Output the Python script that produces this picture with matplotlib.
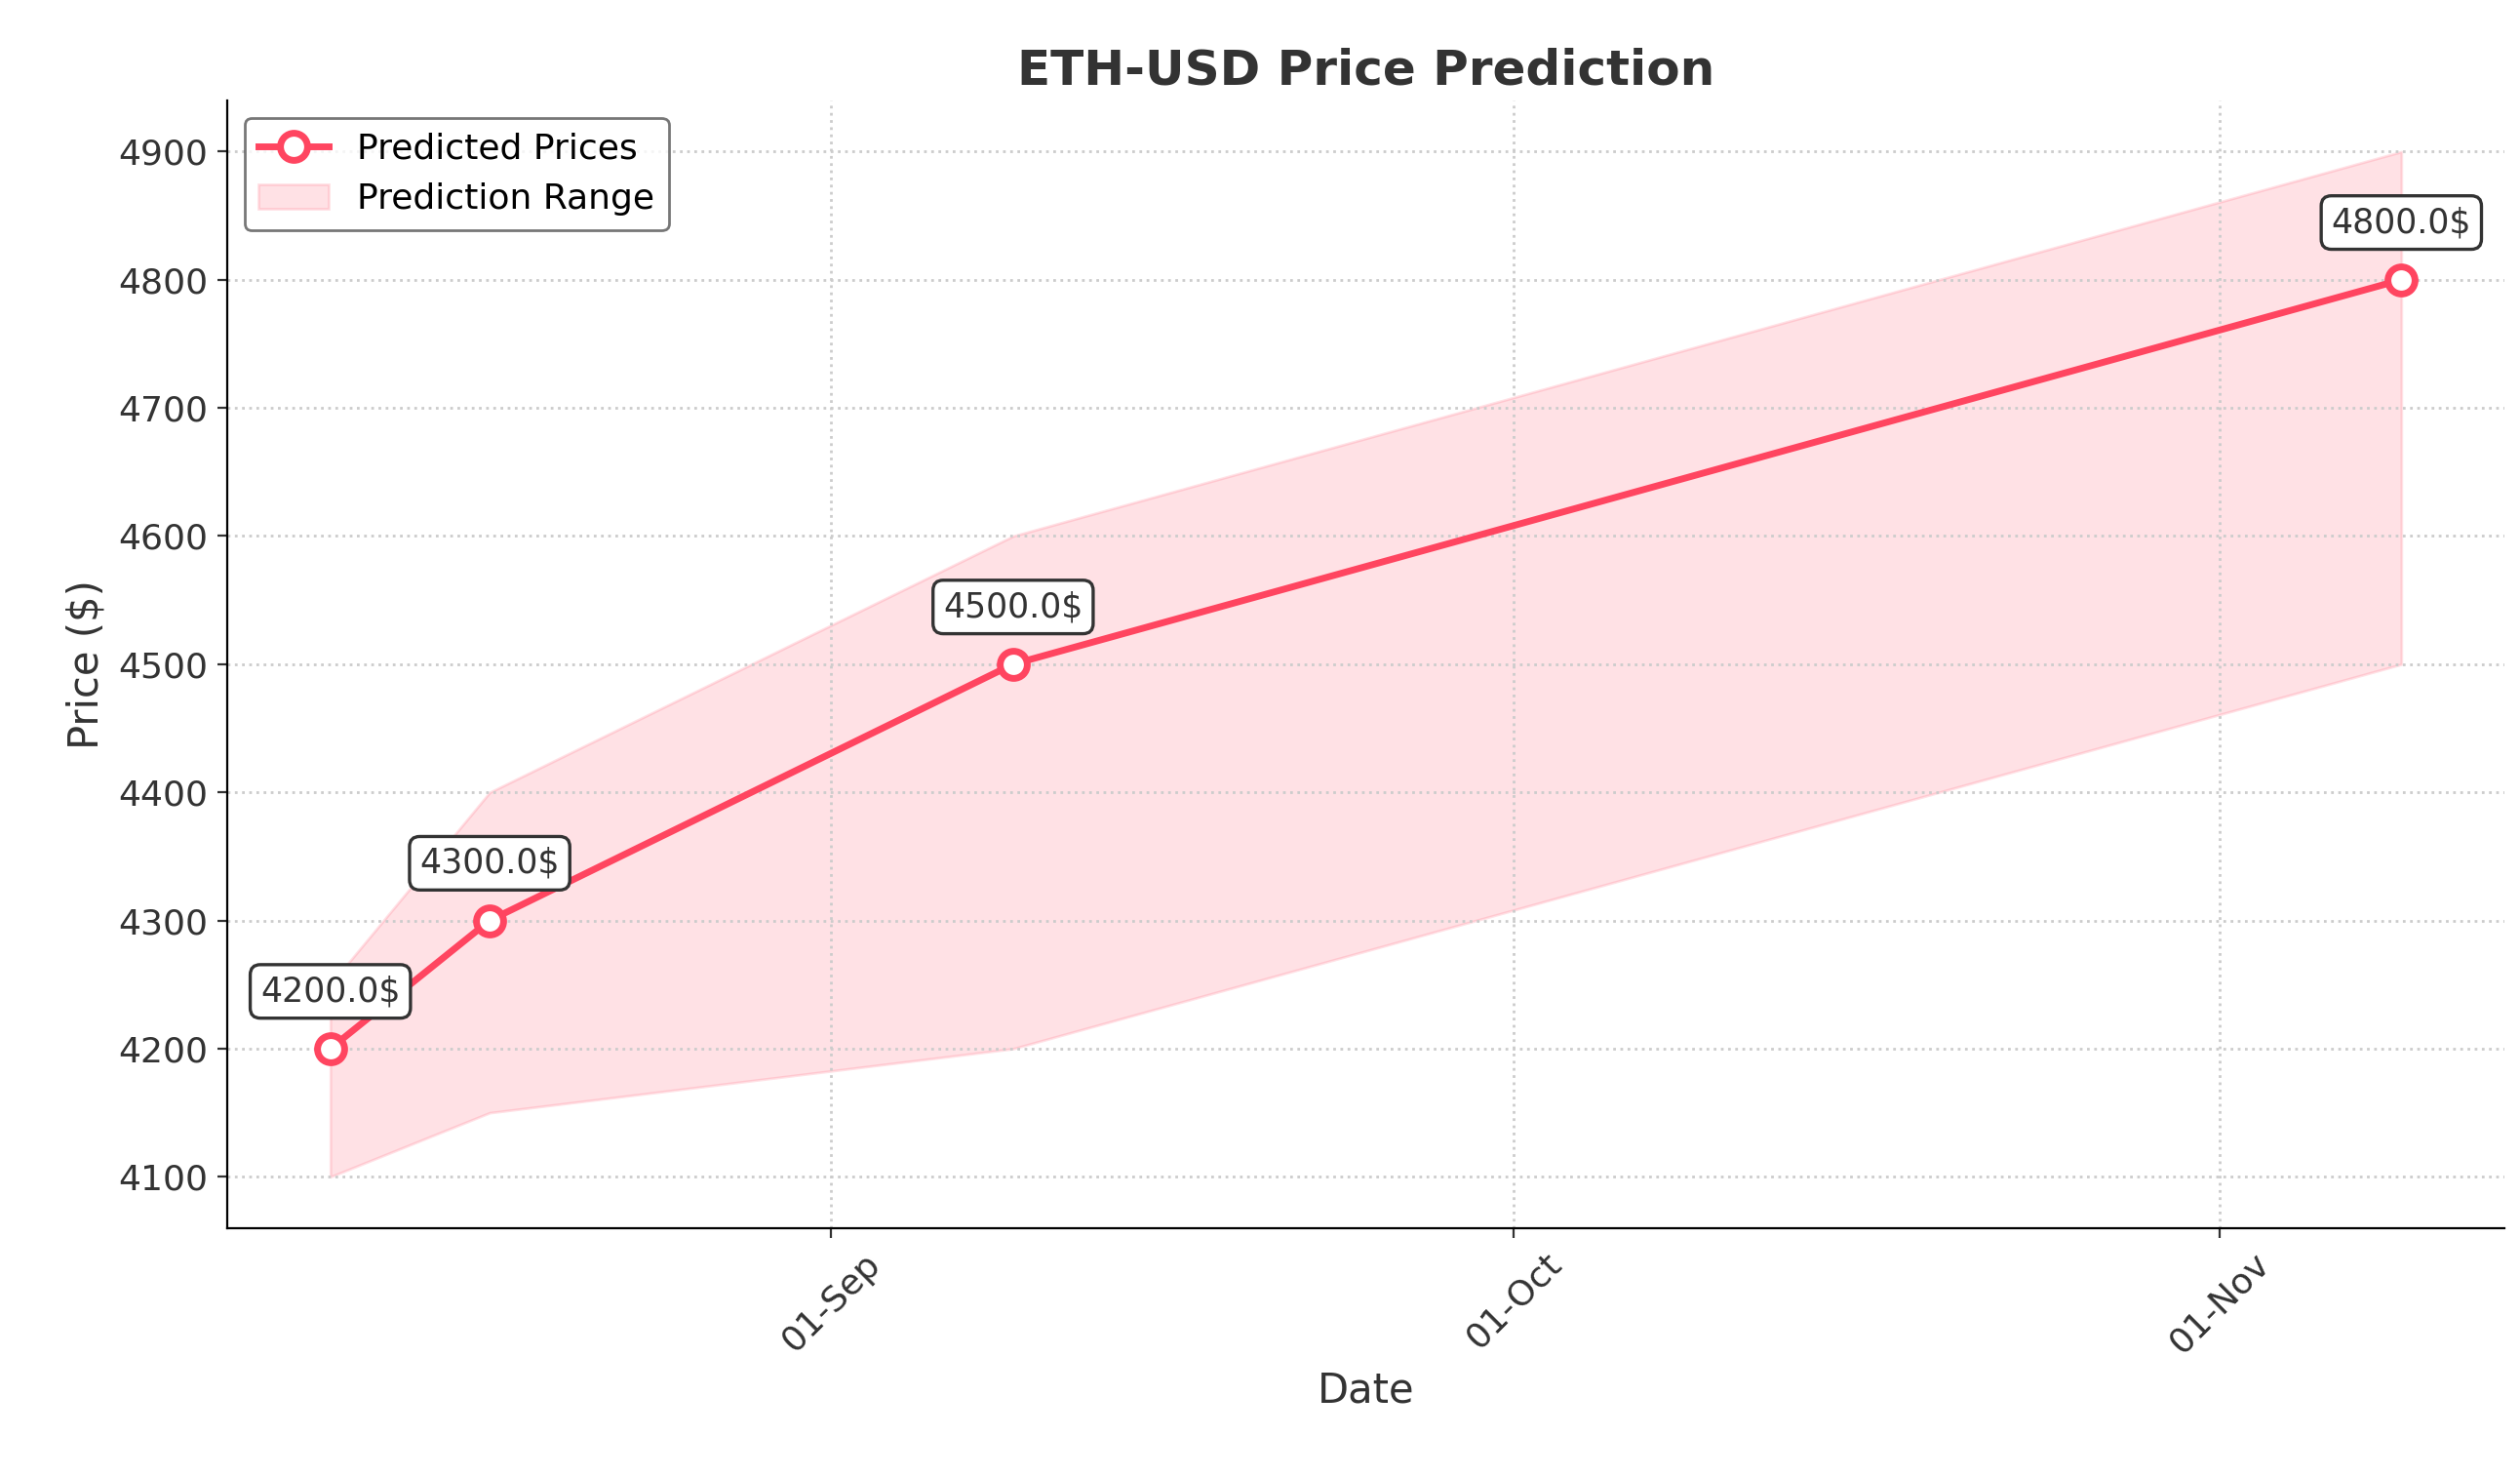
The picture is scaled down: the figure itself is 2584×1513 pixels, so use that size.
import matplotlib
matplotlib.use("Agg")
import matplotlib.pyplot as plt
import matplotlib.dates as mdates
import pandas as pd

dates = pd.to_datetime(["2025-08-10", "2025-08-17", "2025-09-09", "2025-11-09"])
predicted = [4200.0, 4300.0, 4500.0, 4800.0]
lower = [4100, 4150, 4200, 4500]
upper = [4250, 4400, 4600, 4900]

color = "#ff4560"

fig, ax = plt.subplots(figsize=(12.92, 7.565), dpi=200)

ax.plot(dates, predicted, color=color, linewidth=2.5, marker="o", markersize=10,
        markerfacecolor="white", markeredgewidth=2.5, label="Predicted Prices", zorder=3)
ax.fill_between(dates, lower, upper, color=color, alpha=0.16, label="Prediction Range")

for d, v in zip(dates, predicted):
    ax.annotate(f"{v}$", (d, v), xytext=(0, 15), textcoords="offset points",
                ha="center", va="bottom", fontsize=12.5, color="#333333",
                bbox=dict(boxstyle="round,pad=0.3", fc="white", ec="#333333", lw=1.2))

ax.set_title("ETH-USD Price Prediction", fontsize=18, fontweight="bold", color="#333333")
ax.set_xlabel("Date", fontsize=15, color="#333333")
ax.set_ylabel("Price ($)", fontsize=15, color="#333333")

ax.xaxis.set_major_locator(mdates.MonthLocator())
ax.xaxis.set_major_formatter(mdates.DateFormatter("%d-%b"))
plt.setp(ax.get_xticklabels(), rotation=45)
ax.tick_params(labelsize=13, colors="#333333")

ax.grid(True, linestyle=":", color="#cccccc", linewidth=1)
ax.spines["top"].set_visible(False)
ax.spines["right"].set_visible(False)

ax.legend(loc="upper left", fontsize=13, edgecolor="#555555", fancybox=True)

fig.subplots_adjust(left=0.09, right=0.994, top=0.932, bottom=0.168)
fig.savefig("out.png", dpi=200)
